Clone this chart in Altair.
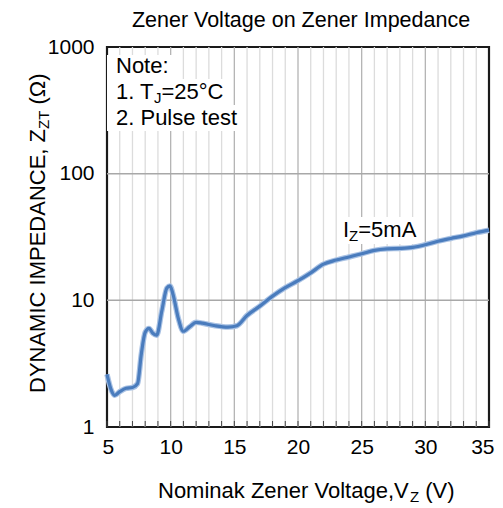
import altair as alt
import pandas as pd

# ---- data ----
vz = [5.0, 5.3, 5.6, 6.0, 6.5, 7.0, 7.4, 7.7, 8.0, 8.3, 8.6, 8.9, 9.3, 9.7, 9.95,
      10.2, 10.6, 11.0, 11.5, 12.0, 12.5, 13.5, 14.5, 15.2, 16.0, 17.0, 18.0, 19.0,
      20.0, 21.0, 22.0, 23.0, 24.0, 25.0, 26.0, 27.0, 28.0, 29.0, 30.0, 31.0, 32.0,
      33.0, 34.0, 35.0]
zzt = [2.6, 2.0, 1.78, 1.9, 2.02, 2.05, 2.2, 3.8, 5.6, 6.0, 5.5, 5.3, 8.2, 12.5, 13.0,
       11.0, 7.2, 5.7, 6.2, 6.7, 6.6, 6.3, 6.15, 6.3, 7.6, 9.0, 10.8, 12.6,
       14.3, 16.5, 19.3, 20.8, 22.0, 23.3, 24.8, 25.5, 25.7, 26.2, 27.5, 29.3, 30.8,
       32.3, 34.2, 35.8]
x_ticks = list(range(5, 36))
x_labels = [5, 10, 15, 20, 25, 30, 35]
y_ticks = [1, 10, 100, 1000]
y_grid = [10, 100]

W, H = 382, 380
FONT = "Liberation Sans"
FS = 22

# Arial / Liberation Sans advance widths (per 1000 em) for layout of subscripts
AW = {' ': 278, '.': 278, ',': 278, ':': 278, '=': 584, '(': 333, ')': 333, '°': 400,
      'Ω': 768, '0': 556, '1': 556, '2': 556, '3': 556, '4': 556, '5': 556,
      '6': 556, '7': 556, '8': 556, '9': 556}
AW.update(dict(zip("ABCDEFGHIJKLMNOPQRSTUVWXYZ",
                   [667, 667, 722, 722, 667, 611, 778, 722, 278, 500, 667, 556, 833,
                    722, 778, 667, 778, 722, 667, 611, 722, 667, 944, 667, 667, 611])))
AW.update(dict(zip("abcdefghijklmnopqrstuvwxyz",
                   [556, 556, 500, 556, 556, 278, 556, 556, 222, 222, 500, 222, 833,
                    556, 556, 556, 556, 333, 500, 278, 556, 500, 722, 500, 500, 500])))


def tw(s, fs):
    return sum(AW.get(c, 556) for c in s) * fs / 1000.0


def rich(parts, x0, y0, fs, angle=0):
    """parts: list of (text, is_sub). returns rows with pixel positions."""
    rows = []
    pos = 0.0
    for text, sub in parts:
        size = fs * 0.68 if sub else fs
        shift = fs * 0.2 if sub else 0.0
        lead = len(text) - len(text.lstrip(" "))
        pos += tw(" " * lead, size)
        text = text.lstrip(" ")
        if angle == 0:
            x, y = x0 + pos, y0 + shift
        else:  # 270: text runs upward, subscript shifts right
            x, y = x0 + shift, y0 - pos
        rows.append({"t": text, "x": x, "y": y, "s": size, "a": angle})
        pos += tw(text, size)
    return rows


labels = []
labels += rich([("Note:", False)], 9, 26, FS)
labels += rich([("1. T", False), ("J", True), ("=25°C", False)], 9, 52, FS)
labels += rich([("2. Pulse test", False)], 9, 78, FS)
labels += rich([("I", False), ("Z", True), ("=5mA", False)], 236, 190, FS)
labels += rich([("Nominak Zener Voltage,V", False), ("Z", True), (" (V)", False)], 51, 451, FS)
labels += rich([("DYNAMIC IMPEDANCE, Z", False), ("ZT", True), (" (Ω)", False)], -62, 346, FS, 270)
lab_df = pd.DataFrame(labels)

# white boxes behind the note lines and the curve label
boxes = pd.DataFrame([
    {"x": 0, "x2": 14 + tw("Note:", FS), "y": 8, "y2": 32},
    {"x": 0, "x2": 12 + tw("1. T=25°C", FS) + tw("J", FS * 0.68), "y": 32, "y2": 58},
    {"x": 0, "x2": 12 + tw("2. Pulse test", FS), "y": 58, "y2": 84},
    {"x": 233, "x2": 240 + tw("I=5mA", FS) + tw("Z", FS * 0.68), "y": 170, "y2": 197},
])

curve = pd.DataFrame({"vz": vz, "zzt": zzt})
xs = alt.Scale(domain=[5, 35], nice=False, zero=False)
ys = alt.Scale(type="log", domain=[1, 1000], nice=False)

minor = pd.DataFrame({"v": [v for v in x_ticks if v % 5 != 0]})
major = pd.DataFrame({"v": [v for v in x_ticks if v % 5 == 0 and 5 < v < 35]})
ticks_df = pd.DataFrame({"v": x_ticks})
hgrid = pd.DataFrame({"v": y_grid})

minor_rules = alt.Chart(minor).mark_rule(color="#dcdcdc", strokeWidth=1.3).encode(
    x=alt.X("v:Q", scale=xs))
major_rules = alt.Chart(major).mark_rule(color="#b4b4b4", strokeWidth=1.3).encode(
    x=alt.X("v:Q", scale=xs))
h_rules = alt.Chart(hgrid).mark_rule(color="#a8a8a8", strokeWidth=1.5).encode(
    y=alt.Y("v:Q", scale=ys))
in_ticks = alt.Chart(ticks_df).mark_rule(color="#444", strokeWidth=1).encode(
    x=alt.X("v:Q", scale=xs), y=alt.value(H), y2=alt.value(H - 6))

box_layer = alt.Chart(boxes).mark_rect(color="white").encode(
    x=alt.X("x:Q", scale=None), x2="x2:Q",
    y=alt.Y("y:Q", scale=None), y2="y2:Q")

base = alt.Chart(curve).encode(
    x=alt.X("vz:Q", scale=xs,
            axis=alt.Axis(values=x_labels, title=None, grid=False, ticks=False,
                          domain=False, labelFontSize=21, labelFont=FONT,
                          labelColor="black", labelPadding=9, labelFlush=True,
                          labelFlushOffset=5, labelOverlap=False)),
    y=alt.Y("zzt:Q", scale=ys,
            axis=alt.Axis(values=y_ticks, title=None, grid=False, ticks=False,
                          domain=False, labelFontSize=21, labelFont=FONT,
                          labelColor="black", labelPadding=13, format="d",
                          labelOverlap=False, labelFlush=False)),
)
glow = base.mark_line(color="#a9c2e4", strokeWidth=5.5, interpolate="monotone")
line = base.mark_line(color="#4a7cbd", strokeWidth=3.2, interpolate="monotone")

text_layer = alt.Chart(lab_df).mark_text(
    align="left", baseline="alphabetic", font=FONT, color="black").encode(
    x=alt.X("x:Q", scale=None), y=alt.Y("y:Q", scale=None),
    text="t:N", size=alt.Size("s:Q", scale=None, legend=None),
    angle=alt.Angle("a:Q", scale=None, legend=None))

title_layer = alt.Chart(pd.DataFrame({"t": ["Zener Voltage on Zener Impedance"]})).mark_text(
    align="center", baseline="alphabetic", font=FONT, fontSize=21.5, color="black").encode(
    x=alt.value(194), y=alt.value(-20), text="t:N")

chart = alt.layer(
    minor_rules, major_rules, h_rules, in_ticks, box_layer, glow, line, text_layer, title_layer
).properties(
    width=W, height=H,
    autosize=alt.AutoSizeParams(type="none"),
    padding={"left": 99, "top": 39, "right": 6, "bottom": 80},
    background="white",
).configure_view(stroke="#1a1a1a", strokeWidth=2.2)

chart.save("out.html", embed_options={"renderer": "svg", "actions": False})
